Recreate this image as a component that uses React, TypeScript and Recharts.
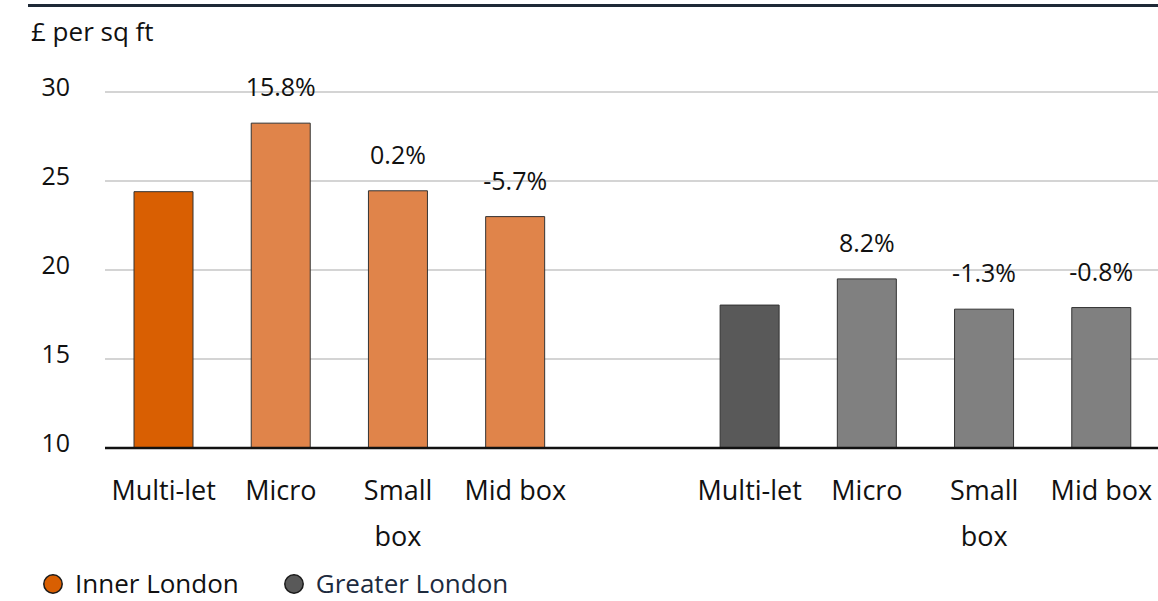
import React from "react";
import {
  BarChart,
  Bar,
  XAxis,
  YAxis,
  CartesianGrid,
  Cell,
  LabelList,
  Legend,
} from "recharts";

// Rents by unit size, Inner vs Greater London (£ per sq ft)
const segments = ["Multi-let", "Micro", "Small box", "Mid box"];
// Axis labels, one entry per printed line
const segmentTickLines = [["Multi-let"], ["Micro"], ["Small", "box"], ["Mid box"]];
const innerLondon = [24.4, 28.25, 24.45, 23.0];
const greaterLondon = [18.03, 19.5, 17.8, 17.89];
// Change versus the multi-let rent of the same area
const innerChange = ["", "15.8%", "0.2%", "-5.7%"];
const greaterChange = ["", "8.2%", "-1.3%", "-0.8%"];
const yTicks = [10, 15, 20, 25, 30];

const FONT = "'Open Sans', 'Noto Sans', sans-serif";
const INNER_BASE = "#D95F02";
const INNER = "#E0844A";
const GREATER_BASE = "#595959";
const GREATER = "#808080";

const series = [
  { name: "Inner London", color: INNER_BASE, text: "#111111" },
  { name: "Greater London", color: GREATER_BASE, text: "#1d2b3e" },
];

type Row = {
  key: string;
  lines: string[];
  value: number | null;
  change: string;
  fill: string;
};

const data: Row[] = [
  ...segments.map((s, i) => ({
    key: `inner-${s}`,
    lines: segmentTickLines[i],
    value: innerLondon[i],
    change: innerChange[i],
    fill: i === 0 ? INNER_BASE : INNER,
  })),
  { key: "gap", lines: [], value: null, change: "", fill: "none" },
  ...segments.map((s, i) => ({
    key: `greater-${s}`,
    lines: segmentTickLines[i],
    value: greaterLondon[i],
    change: greaterChange[i],
    fill: i === 0 ? GREATER_BASE : GREATER,
  })),
];

const XTick = (props: any) => {
  const { x, y, index } = props;
  const lines = data[index]?.lines ?? [];
  if (!lines.length) return null;
  return (
    <text
      x={x}
      y={y + 52}
      textAnchor="middle"
      fontSize={27}
      fontFamily={FONT}
      fill="#111111"
    >
      {lines.map((l, i) => (
        <tspan key={l} x={x} dy={i === 0 ? 0 : 46}>
          {l}
        </tspan>
      ))}
    </text>
  );
};

const YTick = (props: any) => {
  const { x, y, payload } = props;
  return (
    <text
      x={x}
      y={y + 4}
      textAnchor="end"
      fontSize={25}
      fontFamily={FONT}
      fill="#111111"
    >
      {payload.value}
    </text>
  );
};

const ChangeLabel = (props: any) => {
  const { x, y, width, value } = props;
  if (!value) return null;
  return (
    <text
      x={x + width / 2}
      y={y - 27}
      textAnchor="middle"
      fontSize={25}
      fontFamily={FONT}
      fill="#111111"
    >
      {value}
    </text>
  );
};

const LegendContent = () => (
  <div
    style={{
      height: 36,
      display: "flex",
      alignItems: "center",
      paddingLeft: 43,
      fontFamily: FONT,
      fontSize: 26,
    }}
  >
    {series.map((s) => (
      <div
        key={s.name}
        style={{ display: "flex", alignItems: "center", marginRight: 45 }}
      >
        <svg width={20} height={20} style={{ marginRight: 12, marginTop: 2 }}>
          <circle cx={10} cy={10} r={9.2} fill={s.color} stroke="#1a1a1a" strokeWidth={1.5} />
        </svg>
        <span style={{ color: s.text, lineHeight: 1 }}>{s.name}</span>
      </div>
    ))}
  </div>
);

export default function App() {
  return (
    <div
      style={{
        position: "absolute",
        left: 0,
        top: 0,
        width: 1158,
        height: 601,
        overflow: "hidden",
        background: "#ffffff",
        fontFamily: FONT,
      }}
    >
      <div
        style={{
          position: "absolute",
          left: 28,
          right: 0,
          top: 4,
          height: 3,
          background: "#1e2936",
        }}
      />
      <div
        style={{
          position: "absolute",
          left: 31,
          top: 14,
          fontSize: 26,
          lineHeight: "34px",
          color: "#111111",
        }}
      >
        £ per sq ft
      </div>
      <BarChart
        width={1160}
        height={601}
        data={data}
        margin={{ top: 92, right: 0, bottom: 0, left: 0 }}
        barSize={59}
      >
        <CartesianGrid vertical={false} stroke="#c6c6c6" strokeWidth={1.5} />
        <XAxis
          dataKey="key"
          height={117}
          tickLine={false}
          tickSize={0}
          tickMargin={0}
          axisLine={{ stroke: "#111111", strokeWidth: 2.5 }}
          interval={0}
          tick={<XTick />}
        />
        <YAxis
          width={105}
          domain={[10, 30]}
          ticks={yTicks}
          tickLine={false}
          tickSize={0}
          tickMargin={35}
          axisLine={false}
          tick={<YTick />}
        />
        <Legend verticalAlign="bottom" align="left" content={<LegendContent />} />
        <Bar
          dataKey="value"
          isAnimationActive={false}
          stroke="#333333"
          strokeWidth={1}
        >
          {data.map((d) => (
            <Cell key={d.key} fill={d.fill} />
          ))}
          <LabelList dataKey="change" content={<ChangeLabel />} />
        </Bar>
      </BarChart>
    </div>
  );
}
